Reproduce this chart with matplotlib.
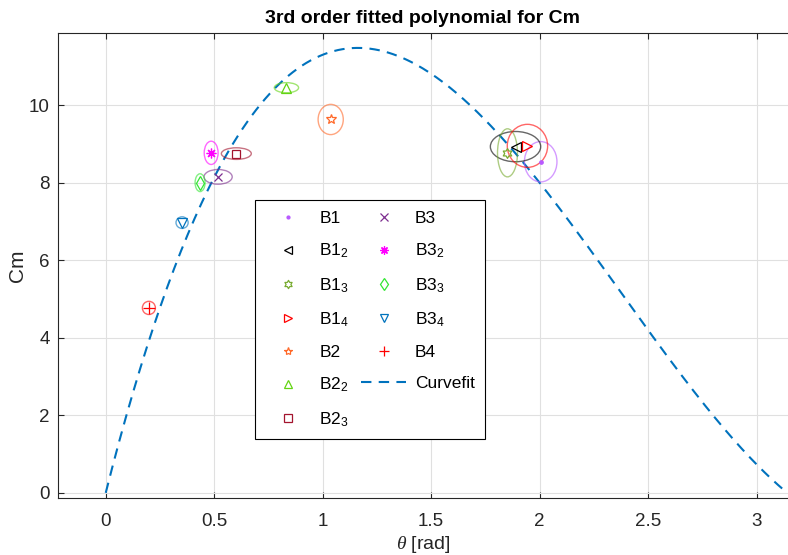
import numpy as np
import matplotlib
matplotlib.use("Agg")
import matplotlib.pyplot as plt
from matplotlib.patches import Ellipse
from matplotlib.path import Path

# =========================================
# DATA
# =========================================
labels = ["B1", "B1$_{2}$", "B1$_{3}$", "B1$_{4}$", "B2", "B2$_{2}$", "B2$_{3}$",
          "B3", "B3$_{2}$", "B3$_{3}$", "B3$_{4}$", "B4"]
theta = [2.005, 1.889, 1.852, 1.944, 1.037, 0.833, 0.602,
         0.518, 0.486, 0.435, 0.352, 0.199]
cm = [8.54, 8.93, 8.77, 8.95, 9.63, 10.45, 8.75,
      8.15, 8.77, 8.00, 6.97, 4.77]
# spread of each group (half width in theta, half height in Cm)
spread_theta = [0.075, 0.116, 0.046, 0.093, 0.058, 0.056, 0.069,
                0.065, 0.032, 0.023, 0.028, 0.030]
spread_cm = [0.52, 0.39, 0.62, 0.555, 0.39, 0.13, 0.15,
             0.19, 0.30, 0.23, 0.15, 0.17]

# cubic fit coefficients (highest power first)
poly_coefs = [1.772, -12.615, 22.142, 0.0]


# =========================================
# HELPERS
# =========================================
def hexagram():
    verts = []
    for k in range(12):
        r = 1.0 if k % 2 == 0 else 0.577
        a = np.deg2rad(90 + 30 * k)
        verts.append((r * np.cos(a), r * np.sin(a)))
    verts.append(verts[0])
    return Path(verts, closed=True)


markers = [".", "<", hexagram(), ">", "*", "^", "s", "x", (8, 2, 0), "d", "v", "+"]
colors = [(0.72, 0.35, 1.0), "black", (0.47, 0.67, 0.19), (1.0, 0.0, 0.0),
          (1.0, 0.41, 0.16), (0.39, 0.83, 0.07), (0.64, 0.08, 0.18),
          (0.49, 0.18, 0.56), (1.0, 0.0, 1.0), (0.2, 0.9, 0.2),
          (0.0, 0.45, 0.74), (1.0, 0.0, 0.0)]
sizes = [5, 7, 7, 7, 7, 7, 6, 6, 7, 7, 7, 8]

# =========================================
# STYLE
# =========================================
plt.rcParams["font.family"] = ["Liberation Sans", "DejaVu Sans"]
plt.rcParams["mathtext.fontset"] = "custom"
plt.rcParams["mathtext.rm"] = "Liberation Sans"
plt.rcParams["mathtext.it"] = "Liberation Serif:italic"

fig = plt.figure(figsize=(7.88, 5.55), dpi=100)
ax = fig.add_axes([0.0736, 0.1036, 0.9264, 0.8369])

for i in range(len(labels)):
    filled = isinstance(markers[i], str) and markers[i] in (".", "x", "+")
    ax.plot(theta[i], cm[i], linestyle="none", marker=markers[i], color=colors[i],
            markerfacecolor=colors[i] if filled else "none",
            markersize=sizes[i], markeredgewidth=0.9, label=labels[i], zorder=4)
    ell = Ellipse((theta[i], cm[i]), 2 * spread_theta[i], 2 * spread_cm[i],
                  fill=False, edgecolor=colors[i], alpha=0.6, linewidth=1.0, zorder=3)
    ax.add_patch(ell)

x_fit = np.linspace(0, np.pi, 300)
y_fit = np.polyval(poly_coefs, x_fit)
ax.plot(x_fit, y_fit, linestyle=(0, (5, 3.5)), color=(0.0, 0.447, 0.741),
        linewidth=1.5, label="Curvefit", zorder=2)

ax.set_xlim(-0.22, 3.145)
ax.set_ylim(-0.12, 11.86)
ax.set_xticks([0, 0.5, 1, 1.5, 2, 2.5, 3])
ax.set_xticklabels(["0", "0.5", "1", "1.5", "2", "2.5", "3"])
ax.set_yticks([0, 2, 4, 6, 8, 10])

ax.grid(True, color=(0.88, 0.88, 0.88), linewidth=0.8)
ax.set_axisbelow(True)
ax.tick_params(direction="in", length=4, top=True, right=False, labelsize=13.5,
               colors=(0.15, 0.15, 0.15), width=0.8)
ax.tick_params(axis="x", pad=11)
ax.tick_params(axis="y", pad=6)
for side in ["left", "bottom", "top"]:
    ax.spines[side].set_color((0.15, 0.15, 0.15))
    ax.spines[side].set_linewidth(0.8)
ax.spines["right"].set_visible(False)

ax.set_title("3rd order fitted polynomial for Cm", fontsize=14, fontweight="bold", pad=7)
ax.set_xlabel(r"$\theta$ [rad]", fontsize=14, labelpad=3, color=(0.15, 0.15, 0.15))
ax.set_ylabel("Cm", fontsize=15, labelpad=1, color=(0.15, 0.15, 0.15))

leg = ax.legend(ncol=2, loc="upper left", bbox_to_anchor=(0.27, 0.64),
                borderaxespad=0, fontsize=12.5, frameon=True, fancybox=False,
                edgecolor="black", framealpha=1, labelspacing=0.92,
                columnspacing=0.7, handlelength=2.6, handletextpad=0.5,
                borderpad=0.6, markerscale=0.85)
leg.get_frame().set_linewidth(0.8)

plt.savefig("out.png", dpi=100)
